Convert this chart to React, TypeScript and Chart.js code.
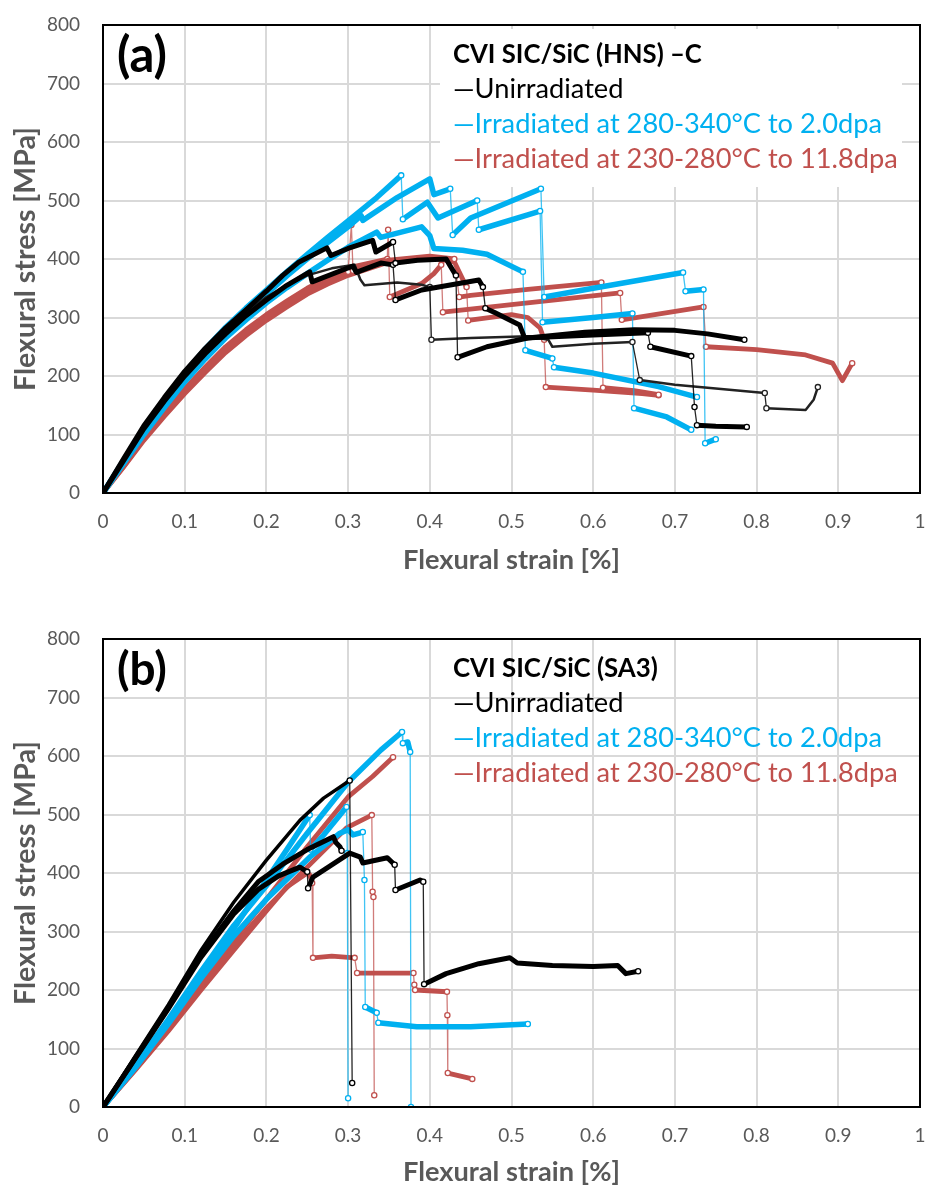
import React, { useEffect, useRef } from 'react';
import { Chart, registerables } from 'chart.js';
Chart.register(...registerables);

const FONT = 'Lato, "Open Sans", sans-serif';
const TICK_COLOR = '#595959';
const GRID_COLOR = '#d9d9d9';
const BLACK = '#000000';
const BLUE = '#00B0F0';
const RED = '#C0504D';
const BLACK_DROP = 'rgba(0,0,0,0.85)';
const BLUE_DROP = 'rgba(0,176,240,0.75)';
const RED_DROP = 'rgba(192,80,77,0.75)';

const xTickLabels = ['0', '0.1', '0.2', '0.3', '0.4', '0.5', '0.6', '0.7', '0.8', '0.9', '1'];
const yTickLabels = ['0', '100', '200', '300', '400', '500', '600', '700', '800'];
const xTitle = 'Flexural strain [%]';
const yTitle = 'Flexural stress [MPa]';
const legendA = ['CVI SIC/SiC (HNS) –C', '—Unirradiated', '—Irradiated at 280-340°C to 2.0dpa', '—Irradiated at 230-280°C to 11.8dpa'];
const legendB = ['CVI SIC/SiC (SA3)', '—Unirradiated', '—Irradiated at 280-340°C to 2.0dpa', '—Irradiated at 230-280°C to 11.8dpa'];

// ---------- Panel (a) ----------
const aUnirr1X = [0, 0.025, 0.05, 0.075, 0.1, 0.125, 0.15, 0.175, 0.2, 0.22, 0.24, 0.274, 0.279, 0.30, 0.33, 0.334, 0.355, 0.358, 0.385, 0.42, 0.425, 0.432, 0.434, 0.47, 0.52, 0.59, 0.65, 0.70, 0.74, 0.785];
const aUnirr1Y = [0, 58, 115, 163, 208, 247, 282, 313, 345, 372, 395, 419, 406, 418, 432, 412, 429, 393, 398, 400, 388, 372, 232, 250, 265, 275, 279, 278, 272, 262];
const aUnirr2X = [0, 0.025, 0.05, 0.075, 0.1, 0.125, 0.15, 0.175, 0.2, 0.225, 0.253, 0.256, 0.306, 0.31, 0.34, 0.355, 0.358, 0.39, 0.46, 0.465, 0.468, 0.48, 0.51, 0.516, 0.60, 0.667, 0.67, 0.72, 0.724, 0.727, 0.75, 0.788];
const aUnirr2Y = [0, 55, 110, 157, 200, 238, 272, 303, 330, 355, 378, 361, 388, 377, 393, 390, 330, 347, 364, 352, 316, 308, 287, 265, 270, 274, 250, 234, 147, 116, 114, 113];
const aUnirr3X = [0, 0.025, 0.05, 0.075, 0.1, 0.125, 0.15, 0.175, 0.2, 0.225, 0.25, 0.28, 0.308, 0.315, 0.32, 0.36, 0.39, 0.40, 0.402, 0.45, 0.52, 0.545, 0.55, 0.60, 0.648, 0.657, 0.70, 0.81, 0.812, 0.86, 0.87, 0.875];
const aUnirr3Y = [0, 56, 112, 160, 205, 243, 278, 308, 335, 355, 372, 384, 390, 365, 355, 360, 356, 352, 262, 265, 268, 262, 250, 255, 258, 193, 185, 171, 145, 142, 160, 181];

const aIrrLow1X = [0, 0.025, 0.05, 0.075, 0.1, 0.125, 0.15, 0.175, 0.2, 0.225, 0.25, 0.275, 0.3, 0.335, 0.365, 0.367, 0.397, 0.41, 0.458, 0.46, 0.535, 0.538, 0.60, 0.648, 0.65, 0.69, 0.72];
const aIrrLow1Y = [0, 55, 110, 159, 205, 246, 283, 316, 347, 378, 408, 437, 465, 505, 543, 468, 497, 470, 500, 450, 482, 292, 300, 307, 145, 130, 108];
const aIrrLow2X = [0, 0.025, 0.05, 0.075, 0.1, 0.125, 0.15, 0.175, 0.2, 0.225, 0.25, 0.275, 0.3, 0.316, 0.318, 0.36, 0.40, 0.405, 0.425, 0.428, 0.45, 0.536, 0.54, 0.60, 0.71, 0.713, 0.735, 0.737, 0.75];
const aIrrLow2Y = [0, 52, 105, 153, 200, 241, 278, 310, 340, 371, 400, 428, 455, 474, 466, 505, 537, 510, 520, 441, 470, 520, 335, 350, 377, 345, 348, 85, 92];
const aIrrLow3X = [0, 0.025, 0.05, 0.075, 0.1, 0.125, 0.15, 0.175, 0.2, 0.225, 0.25, 0.275, 0.3, 0.335, 0.34, 0.39, 0.40, 0.405, 0.44, 0.47, 0.514, 0.517, 0.55, 0.552, 0.60, 0.68, 0.727];
const aIrrLow3Y = [0, 50, 100, 146, 190, 229, 265, 296, 325, 351, 375, 398, 420, 446, 437, 455, 440, 418, 415, 408, 378, 244, 230, 215, 205, 182, 164];

const aIrrHigh1X = [0, 0.025, 0.05, 0.075, 0.1, 0.125, 0.15, 0.175, 0.2, 0.225, 0.25, 0.275, 0.3, 0.304, 0.306, 0.35, 0.40, 0.43, 0.436, 0.45, 0.52, 0.61, 0.612, 0.65, 0.68];
const aIrrHigh1Y = [0, 45, 92, 134, 175, 211, 245, 274, 300, 323, 345, 362, 378, 458, 380, 398, 405, 400, 335, 338, 348, 360, 180, 175, 168];
const aIrrHigh2X = [0, 0.025, 0.05, 0.075, 0.1, 0.125, 0.15, 0.175, 0.2, 0.225, 0.25, 0.275, 0.3, 0.348, 0.349, 0.351, 0.39, 0.405, 0.414, 0.416, 0.50, 0.633, 0.635, 0.735, 0.738, 0.80, 0.86, 0.893, 0.905, 0.917];
const aIrrHigh2Y = [0, 47, 95, 137, 178, 215, 250, 279, 305, 328, 350, 368, 385, 400, 450, 335, 358, 375, 390, 309, 322, 342, 296, 318, 250, 245, 236, 222, 192, 222];
const aIrrHigh3X = [0, 0.025, 0.05, 0.075, 0.1, 0.125, 0.15, 0.175, 0.2, 0.225, 0.25, 0.275, 0.3, 0.35, 0.40, 0.43, 0.445, 0.447, 0.50, 0.52, 0.535, 0.54, 0.542, 0.60, 0.66, 0.68];
const aIrrHigh3Y = [0, 44, 90, 131, 170, 206, 240, 269, 295, 318, 340, 357, 372, 395, 402, 395, 352, 295, 305, 300, 282, 262, 181, 176, 170, 167];

// ---------- Panel (b) ----------
const bUnirr1X = [0, 0.04, 0.08, 0.12, 0.16, 0.2, 0.241, 0.27, 0.302, 0.305];
const bUnirr1Y = [0, 88, 175, 268, 350, 422, 490, 528, 558, 41];
const bUnirr2X = [0, 0.04, 0.08, 0.12, 0.16, 0.19, 0.22, 0.25, 0.282, 0.285, 0.29, 0.292];
const bUnirr2Y = [0, 85, 170, 260, 335, 385, 415, 440, 462, 452, 445, 438];
const bUnirr3X = [0, 0.04, 0.08, 0.12, 0.16, 0.19, 0.215, 0.241, 0.25, 0.251, 0.257, 0.302, 0.315, 0.318, 0.348, 0.357, 0.358, 0.388, 0.392, 0.393, 0.42, 0.46, 0.498, 0.507, 0.55, 0.60, 0.63, 0.64, 0.655];
const bUnirr3Y = [0, 84, 168, 256, 330, 372, 395, 410, 402, 374, 393, 434, 427, 417, 426, 414, 371, 388, 385, 210, 228, 245, 255, 246, 242, 240, 242, 228, 232];

const bIrrLow1X = [0, 0.04, 0.08, 0.12, 0.16, 0.2, 0.25, 0.3, 0.34, 0.366, 0.367, 0.373, 0.376, 0.377];
const bIrrLow1Y = [0, 72, 150, 232, 310, 378, 468, 555, 610, 641, 622, 624, 607, 0];
const bIrrLow2X = [0, 0.04, 0.08, 0.12, 0.16, 0.2, 0.225, 0.253, 0.254, 0.27, 0.298, 0.299, 0.300];
const bIrrLow2Y = [0, 70, 145, 225, 305, 388, 440, 499, 440, 465, 513, 434, 15];
const bIrrLow3X = [0, 0.04, 0.08, 0.12, 0.16, 0.2, 0.253, 0.29, 0.30, 0.306, 0.318, 0.32, 0.321, 0.335, 0.337, 0.384, 0.45, 0.52];
const bIrrLow3Y = [0, 68, 142, 220, 292, 355, 427, 468, 474, 465, 470, 388, 171, 161, 144, 137, 137, 142];

const bIrrHigh1X = [0, 0.04, 0.08, 0.12, 0.16, 0.2, 0.25, 0.3, 0.33, 0.355];
const bIrrHigh1Y = [0, 66, 136, 210, 285, 355, 445, 530, 565, 598];
const bIrrHigh2X = [0, 0.04, 0.08, 0.12, 0.16, 0.2, 0.25, 0.298, 0.329, 0.33, 0.331, 0.332];
const bIrrHigh2Y = [0, 65, 132, 205, 275, 340, 410, 477, 499, 368, 359, 20];
const bIrrHigh3X = [0, 0.04, 0.08, 0.12, 0.16, 0.2, 0.225, 0.25, 0.253, 0.256, 0.257, 0.28, 0.308, 0.311, 0.38, 0.381, 0.382, 0.421, 0.4215, 0.422, 0.452];
const bIrrHigh3Y = [0, 64, 130, 200, 268, 335, 376, 400, 397, 383, 255, 258, 255, 229, 229, 209, 200, 197, 157, 58, 48];

type Series = { xs: number[]; ys: number[]; color: string; drop: string; width: number };

const seriesA: Series[] = [
  { xs: aUnirr1X, ys: aUnirr1Y, color: BLACK, drop: BLACK_DROP, width: 5 },
  { xs: aUnirr2X, ys: aUnirr2Y, color: BLACK, drop: BLACK_DROP, width: 5 },
  { xs: aUnirr3X, ys: aUnirr3Y, color: '#222222', drop: BLACK_DROP, width: 2.5 },
  { xs: aIrrLow1X, ys: aIrrLow1Y, color: BLUE, drop: BLUE_DROP, width: 5.5 },
  { xs: aIrrLow2X, ys: aIrrLow2Y, color: BLUE, drop: BLUE_DROP, width: 5.5 },
  { xs: aIrrLow3X, ys: aIrrLow3Y, color: BLUE, drop: BLUE_DROP, width: 5.5 },
  { xs: aIrrHigh1X, ys: aIrrHigh1Y, color: RED, drop: RED_DROP, width: 4.8 },
  { xs: aIrrHigh2X, ys: aIrrHigh2Y, color: RED, drop: RED_DROP, width: 4.8 },
  { xs: aIrrHigh3X, ys: aIrrHigh3Y, color: RED, drop: RED_DROP, width: 4.8 },
];
const seriesB: Series[] = [
  { xs: bUnirr1X, ys: bUnirr1Y, color: BLACK, drop: BLACK_DROP, width: 3.5 },
  { xs: bUnirr2X, ys: bUnirr2Y, color: BLACK, drop: BLACK_DROP, width: 5 },
  { xs: bUnirr3X, ys: bUnirr3Y, color: BLACK, drop: BLACK_DROP, width: 5 },
  { xs: bIrrLow1X, ys: bIrrLow1Y, color: BLUE, drop: BLUE_DROP, width: 5.5 },
  { xs: bIrrLow2X, ys: bIrrLow2Y, color: BLUE, drop: BLUE_DROP, width: 5.5 },
  { xs: bIrrLow3X, ys: bIrrLow3Y, color: BLUE, drop: BLUE_DROP, width: 5.5 },
  { xs: bIrrHigh1X, ys: bIrrHigh1Y, color: RED, drop: RED_DROP, width: 4.8 },
  { xs: bIrrHigh2X, ys: bIrrHigh2Y, color: RED, drop: RED_DROP, width: 4.8 },
  { xs: bIrrHigh3X, ys: bIrrHigh3Y, color: RED, drop: RED_DROP, width: 4.8 },
];

function fitSize(text: string, weight: string, target: number): number {
  const c = document.createElement('canvas').getContext('2d')!;
  c.font = `${weight} 100px ${FONT}`;
  return (100 * target) / c.measureText(text).width;
}

const isSteep = (a: any, b: any) =>
  Math.abs(b.y - a.y) / Math.max(1e-9, Math.abs(b.x - a.x)) > 6000;

function makeDataset(s: Series) {
  const data = s.xs.map((x, i) => ({ x, y: s.ys[i] }));
  return {
    data,
    borderColor: s.color,
    borderWidth: s.width,
    borderCapStyle: 'round',
    borderJoinStyle: 'round',
    tension: 0,
    fill: false,
    pointBackgroundColor: '#ffffff',
    pointBorderColor: s.color,
    pointBorderWidth: 1.3,
    pointRadius: (ctx: any) => {
      const i = ctx.dataIndex;
      if (i === undefined || i === 0) return 0;
      if (i === data.length - 1) return 2.6;
      if (isSteep(data[i - 1], data[i]) || isSteep(data[i], data[i + 1])) return 2.6;
      return 0;
    },
    segment: {
      borderWidth: (c: any) => (isSteep(data[c.p0DataIndex], data[c.p1DataIndex]) ? 1.3 : s.width),
      borderColor: (c: any) => (isSteep(data[c.p0DataIndex], data[c.p1DataIndex]) ? s.drop : s.color),
    },
  };
}

type Panel = {
  series: Series[];
  legend: string[];
  label: string;
  box: boolean;
  topPad: number;
  xHeight: number;
  xTitlePad: number;
  titleWidth: number;
};

function buildConfig(p: Panel) {
  const tickSize = 19;
  const xTitleSize = fitSize(xTitle, 'bold', 217);
  const yTitleSize = fitSize(yTitle, 'bold', 264);
  const legSize = fitSize(p.legend[3], 'normal', 445);
  const legTitleSize = fitSize(p.legend[0], 'bold', p.titleWidth);
  const labelSize = fitSize(p.label, 'bold', 50);
  const legColors = [BLACK, BLACK, BLUE, RED];
  const legOffsets = [30, 64, 99, 134];

  const decor = {
    id: 'decor',
    beforeDatasetsDraw(chart: any) {
      const { ctx, chartArea: ca } = chart;
      if (p.box) {
        ctx.save();
        ctx.fillStyle = '#ffffff';
        ctx.fillRect(ca.left + 337, ca.top + 4, 462, 158);
        ctx.restore();
      }
    },
    afterDatasetsDraw(chart: any) {
      const { ctx, chartArea: ca } = chart;
      ctx.save();
      ctx.strokeStyle = '#000000';
      ctx.lineWidth = 2;
      ctx.strokeRect(ca.left, ca.top, ca.right - ca.left, ca.bottom - ca.top);
      ctx.textBaseline = 'middle';
      ctx.textAlign = 'left';
      ctx.fillStyle = '#000000';
      ctx.font = `bold ${labelSize}px ${FONT}`;
      ctx.fillText(p.label, ca.left + 14, ca.top + 31);
      p.legend.forEach((t, i) => {
        ctx.font = i === 0 ? `bold ${legTitleSize}px ${FONT}` : `normal ${legSize}px ${FONT}`;
        ctx.fillStyle = legColors[i];
        ctx.fillText(t, ca.left + 350, ca.top + legOffsets[i]);
      });
      ctx.restore();
    },
  };

  return {
    type: 'line',
    data: { datasets: p.series.map(makeDataset) },
    options: {
      responsive: false,
      maintainAspectRatio: false,
      animation: false,
      events: [],
      layout: { padding: { top: p.topPad, right: 7, bottom: 0, left: 0 } },
      plugins: { legend: { display: false }, tooltip: { enabled: false } },
      scales: {
        x: {
          type: 'linear',
          min: 0,
          max: 1,
          afterFit: (s: any) => { s.height = p.xHeight; s.paddingLeft = 0; s.paddingRight = 0; },
          grid: { color: GRID_COLOR, lineWidth: 2, drawTicks: false },
          border: { display: false },
          ticks: {
            stepSize: 0.1,
            autoSkip: false,
            maxRotation: 0,
            padding: 17,
            color: TICK_COLOR,
            font: { family: FONT, size: tickSize },
            callback: (_v: any, i: number) => xTickLabels[i] ?? '',
          },
          title: {
            display: true,
            text: xTitle,
            color: TICK_COLOR,
            font: { family: FONT, size: xTitleSize, weight: 'bold' },
            padding: { top: 0, bottom: p.xTitlePad },
          },
        },
        y: {
          type: 'linear',
          min: 0,
          max: 800,
          afterFit: (s: any) => { s.width = 103; s.paddingTop = 0; s.paddingBottom = 0; },
          grid: { color: GRID_COLOR, lineWidth: 2, drawTicks: false },
          border: { display: false },
          ticks: {
            stepSize: 100,
            padding: 23,
            color: TICK_COLOR,
            font: { family: FONT, size: tickSize },
            callback: (_v: any, i: number) => yTickLabels[i] ?? '',
          },
          title: {
            display: true,
            text: yTitle,
            color: TICK_COLOR,
            font: { family: FONT, size: yTitleSize, weight: 'bold' },
            padding: { top: 9, bottom: 0 },
          },
        },
      },
    },
    plugins: [decor],
  } as any;
}

export default function App() {
  const refA = useRef<HTMLCanvasElement>(null);
  const refB = useRef<HTMLCanvasElement>(null);
  useEffect(() => {
    const a = new Chart(refA.current!, buildConfig({
      series: seriesA, legend: legendA, label: '(a)', box: true, topPad: 25, xHeight: 107, xTitlePad: 23, titleWidth: 249,
    }));
    const b = new Chart(refB.current!, buildConfig({
      series: seriesB, legend: legendB, label: '(b)', box: false, topPad: 39, xHeight: 82, xTitlePad: 0, titleWidth: 205,
    }));
    return () => { a.destroy(); b.destroy(); };
  }, []);
  return (
    <div style={{ position: 'absolute', left: 0, top: 0, width: 927, height: 1189, background: '#ffffff', overflow: 'hidden' }}>
      <canvas ref={refA} width={927} height={600} style={{ display: 'block' }} />
      <canvas ref={refB} width={927} height={589} style={{ display: 'block' }} />
    </div>
  );
}
